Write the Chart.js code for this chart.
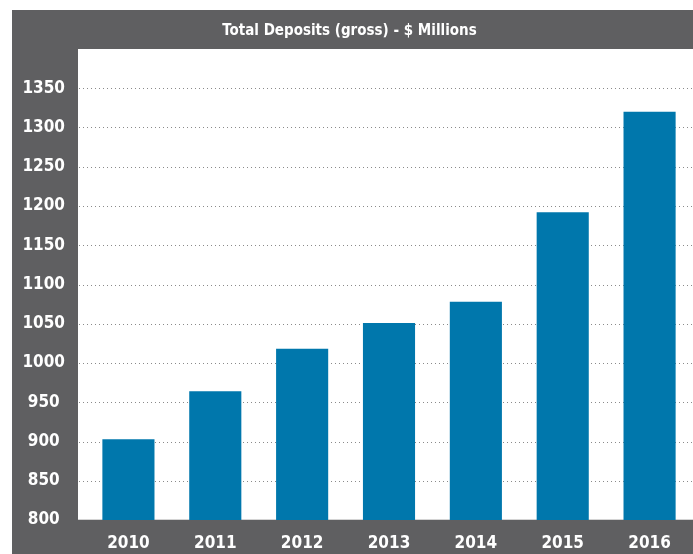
<!DOCTYPE html>
<html>
<head>
<meta charset="utf-8">
<script src="https://cdn.jsdelivr.net/npm/chart.js@4.4.0/dist/chart.umd.min.js"></script>
<style>
  html, body { margin: 0; padding: 0; background: #fff; }
  #wrap { width: 693px; height: 554px; }
</style>
</head>
<body>
<div id="wrap"><canvas id="depChart" width="693" height="554"></canvas></div>
<script>
const years = ["2010", "2011", "2012", "2013", "2014", "2015", "2016"];
const deposits = [903, 964, 1018, 1051, 1078, 1192, 1320];
const yMin = 800;
const yMax = 1400;
const yStep = 50;

const GRAY = "#5f5f61";
const BLUE = "#0077ac";
const FONT = "'Liberation Sans Narrow', 'DejaVu Sans Condensed', Arial, sans-serif";

// grey frame, white plot panel, dotted grid drawn from the y scale
const panelPlugin = {
  id: "panel",
  beforeDraw(chart) {
    const { ctx, chartArea } = chart;
    ctx.save();
    ctx.fillStyle = GRAY;
    ctx.fillRect(12, 10, chart.width - 12, chart.height - 10);
    ctx.fillStyle = "#ffffff";
    ctx.fillRect(78, chartArea.top, chartArea.right - 78, chartArea.bottom - chartArea.top);
    ctx.restore();
  },
  beforeDatasetsDraw(chart) {
    const { ctx, chartArea, scales } = chart;
    const y = scales.y;
    ctx.save();
    ctx.strokeStyle = "#8a8a8a";
    ctx.lineWidth = 1;
    ctx.setLineDash([1, 3]);
    y.ticks.forEach((t) => {
      if (t.value <= yMin || t.value >= yMax) return;
      const py = Math.round(y.getPixelForValue(t.value)) + 0.5;
      ctx.beginPath();
      ctx.moveTo(79, py);
      ctx.lineTo(chartArea.right, py);
      ctx.stroke();
    });
    ctx.setLineDash([]);
    ctx.strokeStyle = "#d4d4d4";
    const by = Math.round(y.getPixelForValue(yMin)) - 0.5;
    ctx.beginPath();
    ctx.moveTo(78, by);
    ctx.lineTo(chartArea.right, by);
    ctx.stroke();
    ctx.restore();
  },
};

new Chart(document.getElementById("depChart").getContext("2d"), {
  type: "bar",
  data: {
    labels: years,
    datasets: [
      {
        label: "Total Deposits",
        data: deposits,
        backgroundColor: BLUE,
        borderWidth: 0,
        categoryPercentage: 1,
        barPercentage: 0.6,
      },
    ],
  },
  options: {
    responsive: false,
    animation: false,
    layout: { padding: { left: 6, top: 10, right: 0, bottom: 0 } },
    plugins: {
      legend: { display: false },
      tooltip: { enabled: false },
      title: {
        display: true,
        text: "Total Deposits (gross) - $ Millions",
        color: "#ffffff",
        font: { family: FONT, size: 15, weight: "bold", lineHeight: 1.2 },
        padding: { top: 12, bottom: 9 },
      },
    },
    scales: {
      x: {
        grid: { display: false, drawTicks: false },
        border: { display: false },
        ticks: {
          color: "#ffffff",
          font: { family: FONT, size: 17, weight: "bold" },
          padding: 13,
          maxRotation: 0,
        },
        afterFit: (s) => { s.height = 34; },
      },
      y: {
        min: yMin,
        max: yMax,
        grid: { display: false, drawTicks: false },
        border: { display: false },
        ticks: {
          stepSize: yStep,
          color: "#ffffff",
          crossAlign: "center",
          padding: 20,
          font: { family: FONT, size: 17, weight: "bold" },
          callback: (v) => (v >= yMax ? "" : v),
        },
        afterFit: (s) => { s.width = 79; },
      },
    },
  },
  plugins: [panelPlugin],
});
</script>
</body>
</html>
